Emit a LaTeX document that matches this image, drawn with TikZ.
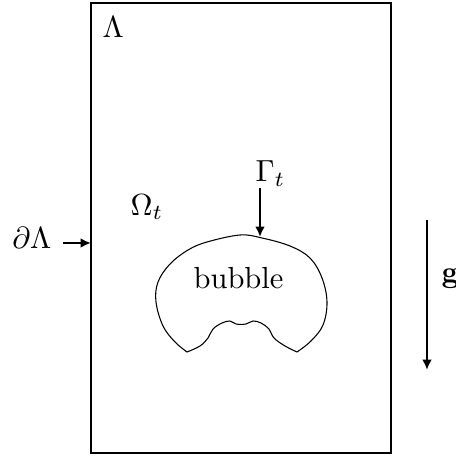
\documentclass[tikz,border=0pt]{standalone}
\usetikzlibrary{arrows.meta}
\tikzset{
  arr/.style={line width=0.95pt,-{Latex[length=3.4pt,width=3.2pt]}},
  thin line/.style={line width=0.35pt},
  lbl/.style={inner sep=0pt,anchor=base west},
}
\begin{document}
\begin{tikzpicture}[x=0.328pt,y=-0.328pt]
\useasboundingbox (0,0) rectangle (456,456);
% domain
\draw[thin line] (91,3) rectangle (391,453);
\node[lbl] (lam) at (102,38) {$\Lambda$};
\node[lbl] (om) at (130,215) {$\Omega_t$};
\node[inner sep=0pt,anchor=base east] (dlam) at (52,248) {$\partial\Lambda$};
\node[lbl] (gam) at (255,182) {$\Gamma_t$};
\node[lbl] (bub) at (193,288) {bubble};
\node[lbl] (g) at (441,282) {$\mathbf{g}$};
% bubble
\draw[thin line,line join=miter]
  plot[smooth,tension=0.6] coordinates {(187,352) (175,342) (163,326) (156,302) (158,282) (170,264) (188,250) (207,242) (240,235) (262,238) (290,246) (310,258) (322,278) (327,302) (323,325) (311,341) (297,352)}
  -- plot[smooth,tension=0.6] coordinates {(297,352) (285,346) (274,338) (269,329) (261,323) (253,321) (246,324) (236,324) (230,321) (222,323) (213,329) (208,338) (200,346) (187,352)}
  -- cycle;
% arrows
\coordinate (ds) at (63,243);
\coordinate (de) at (91,243);
\draw[arr] (ds) -- (de);
\coordinate (gs) at (260,188);
\coordinate (ge) at (260,237);
\draw[arr] (gs) -- (ge);
\coordinate (gvs) at (427,220);
\coordinate (gve) at (427,370);
\draw[arr] (gvs) -- (gve);
\end{tikzpicture}
\end{document}
